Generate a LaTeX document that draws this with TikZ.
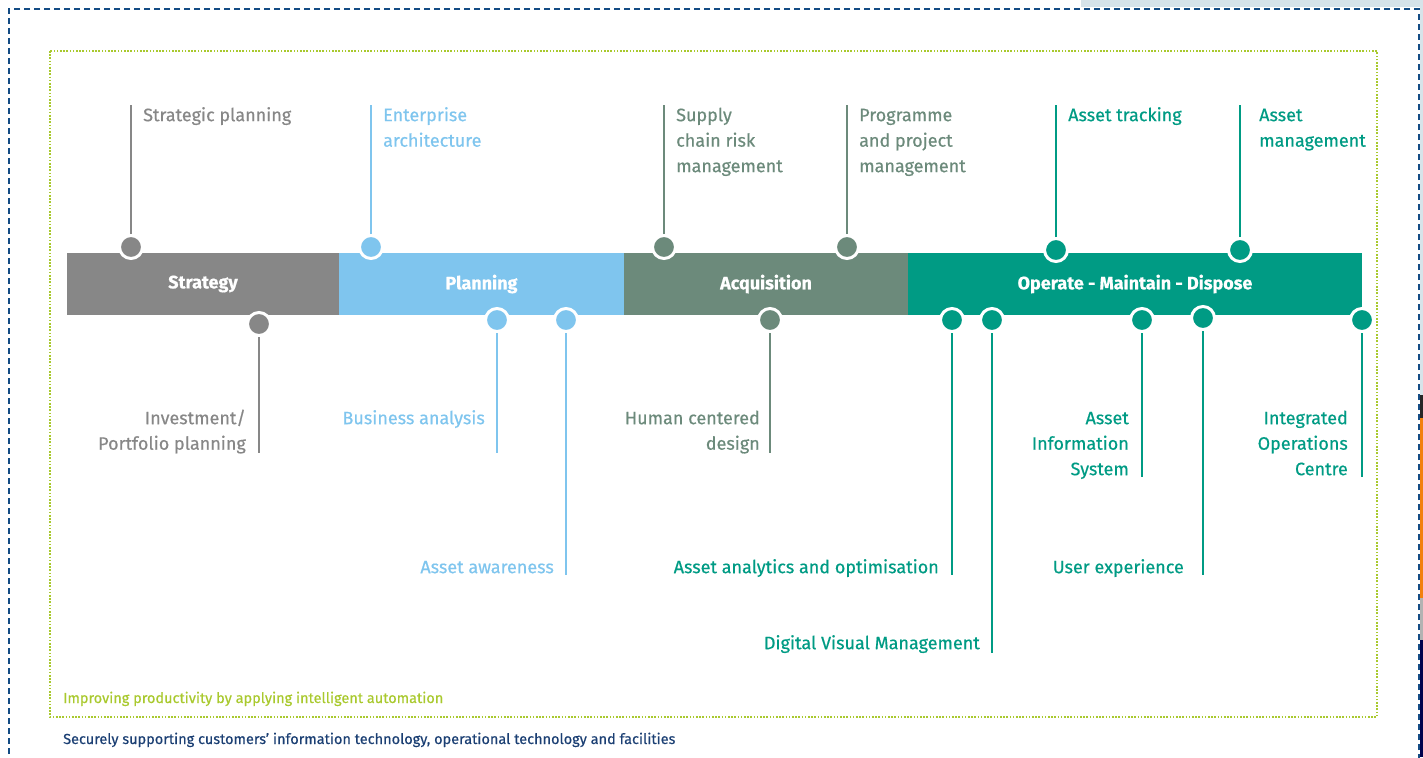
\documentclass[tikz,border=0pt]{standalone}
\usepackage{fontspec}
\setmainfont{Fira Sans}[FakeBold=0.5,BoldFeatures={FakeBold=0.6}]
\definecolor{cstrat}{HTML}{878787}
\definecolor{cplan}{HTML}{7FC5EE}
\definecolor{cacq}{HTML}{6C8A7B}
\definecolor{cop}{HTML}{009B84}
\definecolor{cborder}{HTML}{134C84}
\definecolor{cdot}{HTML}{A9C92E}
\definecolor{cfoot}{HTML}{1B3F73}
\definecolor{cbg}{HTML}{D6E3E9}
\newcommand\labfont{\fontsize{18}{25.5}\selectfont}
\tikzset{
  seg/.style={fill=#1, draw=none, minimum height=62pt, inner sep=0pt, outer sep=0pt,
    anchor=north west, text=white, font=\bfseries\fontsize{18}{20}\selectfont},
  dot/.style={circle, fill=#1, draw=white, line width=3pt, minimum size=23pt, inner sep=0pt},
  lead/.style={draw=#1, line width=2pt},
  toplab/.style={anchor=north west, inner sep=0pt, align=left, font=\labfont, text=#1},
  botlab/.style={anchor=north east, inner sep=0pt, align=right, font=\labfont, text=#1},
  foot/.style={anchor=base west, inner sep=0pt, text=#1, font=\fontsize{14.5}{17}\selectfont},
}
\begin{document}
\begin{tikzpicture}[x=1pt,y=-1pt]
\useasboundingbox (0,0) rectangle (1423,757);
\clip (0,0) rectangle (1423,757);
% background fragments at the edges
\fill[cbg] (1081,0) rectangle (1423,7);
\fill[cbg] (1420,0) rectangle (1423,395);
\fill[black!85] (1420,395) rectangle (1423,418);
\fill[orange!80!brown] (1420,418) rectangle (1423,598);
\fill[gray!60] (1420,598) rectangle (1423,640);
\fill[black!70!blue] (1420,640) rectangle (1423,757);
% borders
\draw[cborder, line width=2pt, dash pattern=on 6pt off 4pt] (1419,800) -- (1419,9) -- (9,9) -- (9,800);
\draw[cdot, line width=1.6pt, dash pattern=on 1.6pt off 1.6pt] (50,51) rectangle (1377,717);
% bar
\node[seg=cstrat, minimum width=272pt] (s1) at (67,253) {\raisebox{-2.5pt}{Strategy}};
\node[seg=cplan, minimum width=285pt] (s2) at (339,253) {\raisebox{-2.5pt}{Planning}};
\node[seg=cacq, minimum width=284pt] (s3) at (624,253) {\raisebox{-2.5pt}{Acquisition}};
\node[seg=cop, minimum width=454pt] (s4) at (908,253) {\raisebox{-2.5pt}{Operate - Maintain - Dispose}};
% dots
\node[dot=cstrat] (d1) at (131,247) {};
\node[dot=cplan] (d2) at (371,247) {};
\node[dot=cacq] (d3) at (664,247) {};
\node[dot=cacq] (d4) at (847,247) {};
\node[dot=cop] (d5) at (1056,250) {};
\node[dot=cop] (d6) at (1240,250) {};
\node[dot=cstrat] (d7) at (259,324) {};
\node[dot=cplan] (d8) at (497,320) {};
\node[dot=cplan] (d9) at (566,320) {};
\node[dot=cacq] (d10) at (770,320) {};
\node[dot=cop] (d11) at (952,320) {};
\node[dot=cop] (d12) at (992,320) {};
\node[dot=cop] (d13) at (1142,320) {};
\node[dot=cop] (d14) at (1203,318) {};
\node[dot=cop] (d15) at (1362,320) {};
% leader end points
\coordinate (e1) at (131,105);
\coordinate (e2) at (371,105);
\coordinate (e3) at (664,105);
\coordinate (e4) at (847,105);
\coordinate (e5) at (1056,105);
\coordinate (e6) at (1240,105);
\coordinate (e7) at (259,453);
\coordinate (e8) at (497,453);
\coordinate (e9) at (566,575);
\coordinate (e10) at (770,453);
\coordinate (e11) at (952,575);
\coordinate (e12) at (992,653);
\coordinate (e13) at (1142,477);
\coordinate (e14) at (1203,575);
\coordinate (e15) at (1362,477);
\draw[lead=cstrat] (d1) -- (e1);
\draw[lead=cplan] (d2) -- (e2);
\draw[lead=cacq] (d3) -- (e3);
\draw[lead=cacq] (d4) -- (e4);
\draw[lead=cop] (d5) -- (e5);
\draw[lead=cop] (d6) -- (e6);
\draw[lead=cstrat] (d7) -- (e7);
\draw[lead=cplan] (d8) -- (e8);
\draw[lead=cplan] (d9) -- (e9);
\draw[lead=cacq] (d10) -- (e10);
\draw[lead=cop] (d11) -- (e11);
\draw[lead=cop] (d12) -- (e12);
\draw[lead=cop] (d13) -- (e13);
\draw[lead=cop] (d14) -- (e14);
\draw[lead=cop] (d15) -- (e15);
% labels
\node[toplab=cstrat] (l1) at (143,103.15) {\strut Strategic planning};
\node[toplab=cplan] (l2) at (383,103.15) {\strut Enterprise\\architecture};
\node[toplab=cacq] (l3) at (676,103.15) {\strut Supply\\chain risk\\management};
\node[toplab=cacq] (l4) at (859,103.15) {\strut Programme\\and project\\management};
\node[toplab=cop] (l5) at (1068,103.15) {\strut Asset tracking};
\node[toplab=cop] (l6) at (1259,103.15) {\strut Asset\\management};
\node[botlab=cstrat] (l7) at (246,406.15) {\strut Investment/\\Portfolio planning};
\node[botlab=cplan] (l8) at (485,406.15) {\strut Business analysis};
\node[botlab=cplan] (l9) at (554,555.15) {\strut Asset awareness};
\node[botlab=cacq] (l10) at (760,406.15) {\strut Human centered\\design};
\node[botlab=cop] (l11) at (939,555.15) {\strut Asset analytics and optimisation};
\node[botlab=cop] (l12) at (980,631.15) {\strut Digital Visual Management};
\node[botlab=cop] (l13) at (1129,406.15) {\strut Asset\\Information\\System};
\node[botlab=cop] (l14) at (1184,555.15) {\strut User experience};
\node[botlab=cop] (l15) at (1348,406.15) {\strut Integrated\\Operations\\Centre};
% footers
\node[foot=cdot] (f1) at (63,703) {Improving productivity by applying intelligent automation};
\node[foot=cfoot] (f2) at (63,744) {Securely supporting customers’ information technology, operational technology and facilities};
\end{tikzpicture}
\end{document}
